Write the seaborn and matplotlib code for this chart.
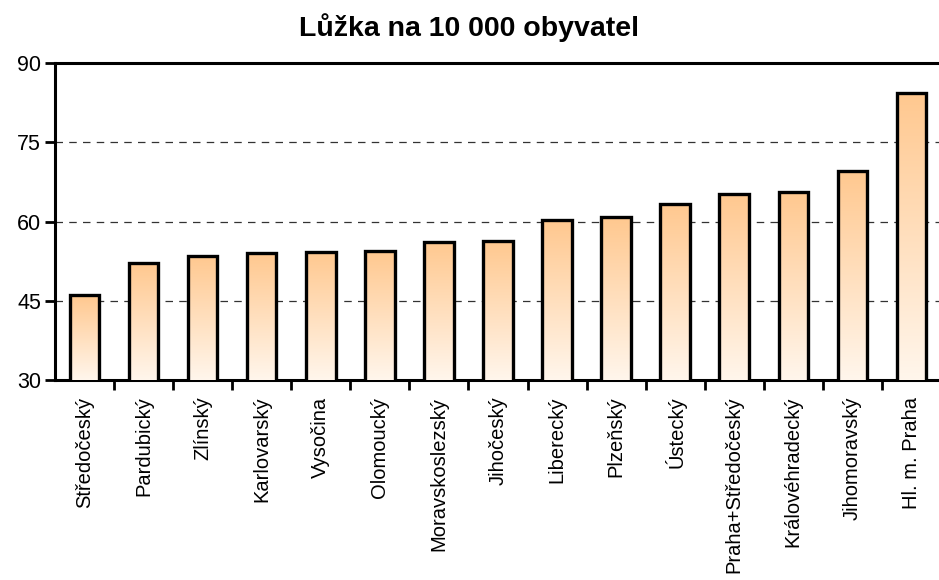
import matplotlib
matplotlib.use("Agg")
import matplotlib.pyplot as plt
import seaborn as sns
import numpy as np
import pandas as pd
from matplotlib.colors import LinearSegmentedColormap

# --- data ---
kraje = ["Středočeský", "Pardubický", "Zlínský", "Karlovarský", "Vysočina",
         "Olomoucký", "Moravskoslezský", "Jihočeský", "Liberecký", "Plzeňský",
         "Ústecký", "Praha+Středočeský", "Královéhradecký", "Jihomoravský",
         "Hl. m. Praha"]
luzka = [46.0, 52.1, 53.5, 54.0, 54.3, 54.4, 56.2, 56.3, 60.2, 60.8,
         63.4, 65.2, 65.6, 69.6, 84.4]
y_ticks = [30, 45, 60, 75, 90]

sns.set_theme(style="white")
plt.rcParams['font.family'] = ['Liberation Sans', 'DejaVu Sans']
plt.rcParams['text.color'] = 'black'
plt.rcParams['xtick.color'] = 'black'
plt.rcParams['ytick.color'] = 'black'

df = pd.DataFrame({"kraj": kraje, "luzka": luzka})

fig = plt.figure(figsize=(9.39, 5.8), dpi=100)
ax = fig.add_axes([55 / 939, 1 - 380 / 580, 886 / 939, 317 / 580])

sns.barplot(data=df, x="kraj", y="luzka", color="#ffc990", width=0.5,
            edgecolor="black", linewidth=2.4, ax=ax, zorder=3)

# gradient vyplň sloupců (nahoře oranžová, dole skoro bílá)
grad = LinearSegmentedColormap.from_list("g", ["#fff6ec", "#ffc88f"])
for p in ax.patches:
    x0, y0 = p.get_x(), p.get_y()
    w, h = p.get_width(), p.get_height()
    img = ax.imshow(np.linspace(0, 1, 256).reshape(-1, 1), cmap=grad,
                    extent=[x0, x0 + w, 30, y0 + h], origin="lower",
                    aspect="auto", zorder=3.5)
    img.set_clip_path(p)
    p.set_facecolor("none")
    p.set_zorder(4)
ax.set_aspect("auto")
ax.set_xlim(-0.5, len(kraje) - 0.5)
ax.set_ylim(30, 90)

# mřížka
for v in [45, 60, 75]:
    ax.axhline(v, color="black", linestyle=(0, (6, 5)), linewidth=0.9,
               alpha=0.8, zorder=1)

ax.set_yticks(y_ticks)
ax.set_yticklabels([str(t) for t in y_ticks], fontsize=15.5)
ax.set_xticks(np.arange(len(kraje)))
ax.set_xticklabels(kraje, rotation=90, fontsize=14.5)
ax.tick_params(axis="x", length=0, pad=12)
ax.tick_params(axis="y", direction="out", length=7, width=2, color="black",
               left=True, pad=3)
# tick marks mezi kategoriemi
ax.set_xticks(np.arange(len(kraje)) + 0.5, minor=True)
ax.tick_params(axis="x", which="minor", bottom=True, direction="out",
               length=7, width=2, color="black")

ax.set_xlabel("")
ax.set_ylabel("")
for s in ["left", "bottom", "top"]:
    ax.spines[s].set_color("black")
    ax.spines[s].set_linewidth(2.2)
ax.spines["right"].set_visible(False)

fig.suptitle("Lůžka na 10 000 obyvatel", fontsize=20.5, fontweight="bold",
             x=469 / 939, y=1 - 13 / 580, va="top")

fig.savefig("out.png", dpi=100)
